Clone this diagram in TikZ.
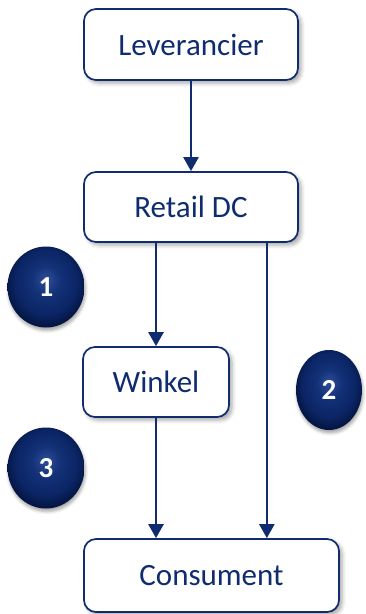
\documentclass[tikz,border=0pt]{standalone}
\usepackage{fontspec}
\setmainfont{Carlito}
\usetikzlibrary{arrows.meta,shadows.blur,shapes.geometric}
\definecolor{navy}{HTML}{0F2D6E}
\definecolor{beadA}{HTML}{2E4E98}
\definecolor{beadB}{HTML}{143278}
\definecolor{beadC}{HTML}{0B2565}
\definecolor{beadD}{HTML}{04143F}
\pgfdeclareradialshading{bead}{\pgfpoint{0bp}{5bp}}{color(0bp)=(beadA); color(9bp)=(beadB); color(20bp)=(beadC); color(27bp)=(beadD); color(50bp)=(beadD)}
\tikzset{
  box/.style={draw=navy, line width=1.7pt, rounded corners=12pt, fill=white,
    text=navy, font=\fontsize{31}{35}\selectfont, inner sep=0pt,
    blur shadow={shadow xshift=3pt, shadow yshift=-3pt, shadow blur radius=4pt, shadow opacity=35}},
  arr/.style={draw=navy, line width=2.4pt, -{Triangle[length=14pt,width=15pt]}},
  bead/.style={ellipse, shading=bead, text=white, font=\bfseries\fontsize{29}{32}\selectfont, inner sep=0pt,
    blur shadow={shadow xshift=1pt, shadow yshift=-3pt, shadow blur radius=3pt, shadow opacity=35}},
}
\begin{document}
\begin{tikzpicture}[x=1pt,y=-1pt]
\useasboundingbox (0,0) rectangle (366,614);
\node[box, minimum width=214pt, minimum height=71pt] (lev) at (191,44.5) {Leverancier};
\node[box, minimum width=214pt, minimum height=70pt] (dc) at (191,207) {Retail DC};
\node[box, minimum width=146pt, minimum height=70pt] (win) at (156,382) {Winkel};
\node[box, minimum width=255pt, minimum height=73pt] (con) at (211.5,575.5) {Consument};
\coordinate (rtop) at ([xshift=-32pt]dc.south east);
\draw[arr] (lev.south) -- (dc.north);
\draw[arr] (win.north |- dc.south) -- (win.north);
\draw[arr] (win.south) -- (win.south |- con.north);
\draw[arr] (rtop) -- (rtop |- con.north);
\node[bead, minimum width=77pt, minimum height=81pt] (b1) at (46,287) {1};
\node[bead, minimum width=66pt, minimum height=80pt] (b2) at (329,390) {2};
\node[bead, minimum width=77pt, minimum height=81pt] (b3) at (46,468) {3};
\end{tikzpicture}
\end{document}
